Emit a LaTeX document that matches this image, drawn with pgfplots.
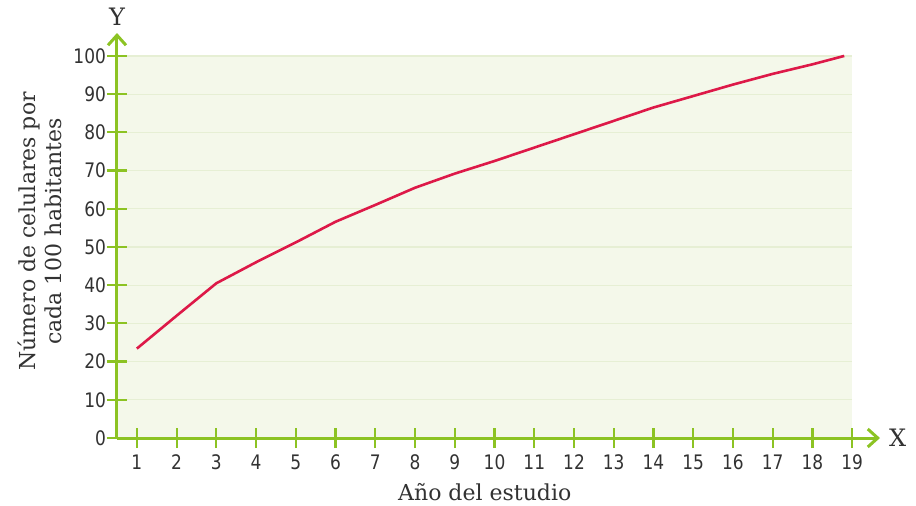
\documentclass[border=0pt]{standalone}
\usepackage{fontspec}
\setmainfont{DejaVu Serif}
\newfontfamily\tickfont[FakeStretch=0.85]{DejaVu Sans}
\usepackage{pgfplots}
\pgfplotsset{compat=1.18}
\usetikzlibrary{arrows.meta,calc}

\definecolor{axgreen}{RGB}{140,195,35}
\definecolor{bggreen}{RGB}{244,248,234}
\definecolor{gridgreen}{RGB}{230,239,212}
\definecolor{curve}{RGB}{221,25,72}
\definecolor{txt}{RGB}{50,50,50}

\begin{document}
\begin{tikzpicture}
\begin{axis}[
  scale only axis,
  width=381.5pt, height=202.5pt,
  xmin=0.5, xmax=19.7, ymin=0, ymax=106,
  clip=false,
  axis lines=left,
  axis on top,
  axis line style={draw=axgreen, line width=1.5pt, -{Straight Barb[length=5pt,width=9pt,line width=1.5pt]}},
  xtick={1,...,19},
  ytick={0,10,...,100},
  tick align=center,
  major tick length=10pt,
  tick style={draw=axgreen, line width=1.1pt},
  /pgf/number format/assume math mode=true,
  ticklabel style={font=\tickfont\fontsize{10}{12}\selectfont, text=txt},
  xticklabel style={yshift=0pt},
  yticklabel style={xshift=3pt},
  xlabel={Año del estudio},
  ylabel={Número de celulares por\\cada 100 habitantes},
  label style={font=\fontsize{11}{13}\selectfont, text=txt},
  xlabel style={at={(axis description cs:0.482,0)}, anchor=center, yshift=-27pt},
  ylabel style={at={(axis description cs:-0.101,0.51)}, anchor=center, align=center},
]
\fill[bggreen] (axis cs:0.5,0) rectangle (axis cs:19,100);
\pgfplotsinvokeforeach{10,20,...,100}{
  \draw[gridgreen, line width=0.6pt] (axis cs:0.5,#1) -- (axis cs:19,#1);
}
\addplot[curve, line width=1.3pt, mark=none] coordinates {
(1,23.4) (2,32) (3,40.5) (4,46) (5,51.2) (6,56.6) (7,61) (8,65.5)
(9,69.2) (10,72.5) (11,76) (12,79.5) (13,83) (14,86.5) (15,89.5)
(16,92.5) (17,95.3) (18,97.8) (18.8,100)
};
\node[font=\fontsize{12}{14}\selectfont, text=txt, anchor=south] at (axis cs:0.5,106) {Y};
\node[font=\fontsize{12}{14}\selectfont, text=txt, anchor=west] at (axis cs:19.75,0) {X};
\end{axis}
\pgfresetboundingbox
\path[use as bounding box] ($(current axis.south west)+(-58.5pt,-33.5pt)$) rectangle ($(current axis.north east)+(18pt,16.5pt)$);
\end{tikzpicture}
\end{document}
